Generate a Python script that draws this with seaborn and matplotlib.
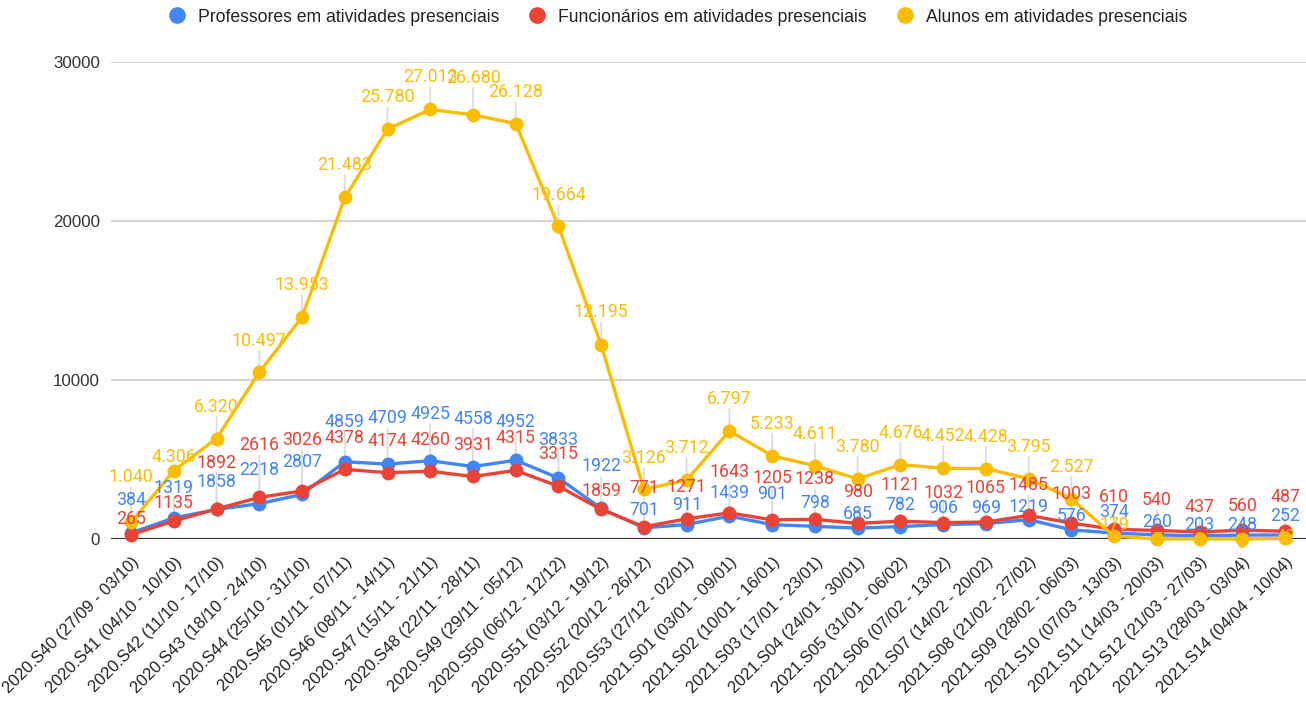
import matplotlib
matplotlib.use("Agg")
import matplotlib.pyplot as plt
from matplotlib.lines import Line2D
from matplotlib.transforms import ScaledTranslation
import seaborn as sns
import pandas as pd

# Semanas epidemiologicas
semanas = [
    "2020.S40 (27/09 - 03/10)", "2020.S41 (04/10 - 10/10)", "2020.S42 (11/10 - 17/10)",
    "2020.S43 (18/10 - 24/10)", "2020.S44 (25/10 - 31/10)", "2020.S45 (01/11 - 07/11)",
    "2020.S46 (08/11 - 14/11)", "2020.S47 (15/11 - 21/11)", "2020.S48 (22/11 - 28/11)",
    "2020.S49 (29/11 - 05/12)", "2020.S50 (06/12 - 12/12)", "2020.S51 (03/12 - 19/12)",
    "2020.S52 (20/12 - 26/12)", "2020.S53 (27/12 - 02/01)", "2021.S01 (03/01 - 09/01)",
    "2021.S02 (10/01 - 16/01)", "2021.S03 (17/01 - 23/01)", "2021.S04 (24/01 - 30/01)",
    "2021.S05 (31/01 - 06/02)", "2021.S06 (07/02 - 13/02)", "2021.S07 (14/02 - 20/02)",
    "2021.S08 (21/02 - 27/02)", "2021.S09 (28/02 - 06/03)", "2021.S10 (07/03 - 13/03)",
    "2021.S11 (14/03 - 20/03)", "2021.S12 (21/03 - 27/03)", "2021.S13 (28/03 - 03/04)",
    "2021.S14 (04/04 - 10/04)",
]

professores = [384, 1319, 1858, 2218, 2807, 4859, 4709, 4925, 4558, 4952, 3833, 1922, 701, 911,
               1439, 901, 798, 685, 782, 906, 969, 1219, 576, 374, 260, 203, 248, 252]
funcionarios = [265, 1135, 1892, 2616, 3026, 4378, 4174, 4260, 3931, 4315, 3315, 1859, 771, 1271,
                1643, 1205, 1238, 980, 1121, 1032, 1065, 1485, 1003, 610, 540, 437, 560, 487]
alunos = [1040, 4306, 6320, 10497, 13953, 21483, 25780, 27013, 26680, 26128, 19664, 12195, 3126, 3712,
          6797, 5233, 4611, 3780, 4676, 4452, 4428, 3795, 2527, 179, 7, 9, 0, 42]

series_names = ["Professores em atividades presenciais",
                "Funcionários em atividades presenciais",
                "Alunos em atividades presenciais"]
colors = ["#4285F4", "#EA4335", "#FBBC04"]

# Vertical offsets (pixels) of the annotation labels, as placed in the original
prof_dy = [33, 30, 27, 34, 32, 40, 46, 47, 48, 38, 38, 42, 18, 20,
           23, 31, 23, 14, 22, 17, 16, 13, 14, 21, 13, 11, 10, 19]
func_dy = [16, 18, 46, 52, 51, 31, 32, 31, 31, 32, 32, 18, 39, 32,
           41, 42, 40, 31, 36, 30, 34, 30, 29, 32, 30, 25, 24, 34]
alun_dy = [45, 14, 32, 31, 32, 32, 32, 32, 37, 32, 31, 33, 31, 32,
           32, 32, 32, 32, 32, 32, 32, 32, 32, 11, -1, -1, -4, 1]

df = pd.DataFrame({
    "idx": list(range(len(semanas))) * 3,
    "valor": professores + funcionarios + alunos,
    "serie": [n for n in series_names for _ in semanas],
})

fig = plt.figure(figsize=(13.06, 7.02), dpi=100)
ax = fig.add_axes([111 / 1306, 163 / 702, 1195 / 1306, 477 / 702])

sns.lineplot(
    data=df, x="idx", y="valor", hue="serie", hue_order=series_names,
    palette=dict(zip(series_names, colors)), marker="o", markersize=10,
    markeredgewidth=0, linewidth=2.4, errorbar=None, legend=False, ax=ax,
    clip_on=False, zorder=3,
)

# Data labels with stems
fmt_plain = lambda v: f"{v}"
fmt_dot = lambda v: f"{v:,}".replace(",", ".")
for vals, dys, color, fmt in [(professores, prof_dy, colors[0], fmt_plain),
                              (funcionarios, func_dy, colors[1], fmt_plain),
                              (alunos, alun_dy, colors[2], fmt_dot)]:
    for i, (v, dy) in enumerate(zip(vals, dys)):
        if dy > 15:
            ax.annotate("", xy=(i, v), xytext=(0, dy - 10), textcoords="offset pixels",
                        arrowprops=dict(arrowstyle="-", color="#dddddd", lw=1.3,
                                        shrinkA=0, shrinkB=0),
                        zorder=1, annotation_clip=False)
        ax.annotate(fmt(v), xy=(i, v), xytext=(0, dy), textcoords="offset pixels",
                    ha="center", va="center", color=color, fontsize=12.8,
                    family="Roboto", zorder=4, annotation_clip=False)

# Axes
ax.set_xlim(-0.47, 27.49)
ax.set_ylim(0, 30000)
ax.set_yticks([0, 10000, 20000, 30000])
ax.set_yticklabels(["0", "10000", "20000", "30000"], fontsize=12.2,
                   family="Liberation Sans", color="#333333")
ax.set_xticks(range(len(semanas)))
ax.set_xticklabels(semanas, rotation=45, ha="right", va="top", rotation_mode="anchor",
                   fontsize=12.0, family="Liberation Sans", color="#222222")
for lbl in ax.get_xticklabels():
    lbl.set_transform(lbl.get_transform() + ScaledTranslation(7 / 100, 0, fig.dpi_scale_trans))
ax.tick_params(axis="x", length=0, pad=11)
ax.tick_params(axis="y", length=0, pad=8)
ax.set_xlabel("")
ax.set_ylabel("")
ax.grid(axis="y", color="#cccccc", linewidth=1.2)
ax.grid(axis="x", visible=False)
ax.axhline(0, color="#333333", linewidth=1.6, zorder=2)
for s in ax.spines.values():
    s.set_visible(False)

# Legend
handles = [Line2D([], [], linestyle="none", marker="o", markersize=12,
                  markerfacecolor=c, markeredgewidth=0) for c in colors]
fig.legend(handles, series_names, loc="center left", bbox_to_anchor=(168 / 1306, 1 - 17 / 702),
           ncol=3, frameon=False, borderpad=0, borderaxespad=0, handlelength=1.0,
           handletextpad=0.69, columnspacing=1.67,
           prop={"family": "Liberation Sans", "size": 12.7}, labelcolor="#222222")

fig.savefig("out.png", dpi=100)
plt.close(fig)
